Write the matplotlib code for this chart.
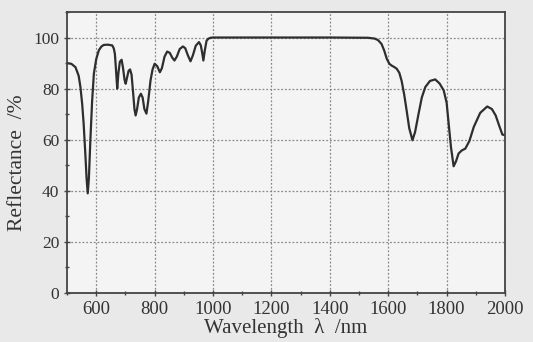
import matplotlib
matplotlib.use("Agg")
import matplotlib.pyplot as plt
from matplotlib.ticker import MultipleLocator

# values
wavelength = [500, 515, 529, 540, 546, 552, 557, 563, 567, 571, 575, 580, 586, 592,
              600, 609, 618, 626, 640, 655, 660, 664, 668, 672, 676, 681, 687,
              692, 697, 701, 706, 711, 716, 721, 726, 731, 735, 740, 746, 753,
              759, 765, 772, 778, 786, 793, 800, 809, 818, 825, 834, 843, 852,
              860, 868, 876, 886, 897, 905, 914, 923, 931, 941, 952, 958, 963,
              967, 972, 978, 985, 992, 1000, 1200, 1400, 1530, 1553, 1565,
              1577, 1586, 1595, 1604, 1612, 1620, 1629, 1638, 1646, 1655, 1663,
              1672, 1683, 1692, 1704, 1715, 1727, 1743, 1761, 1776, 1790, 1800,
              1807, 1815, 1824, 1832, 1841, 1852, 1864, 1878, 1893, 1915, 1939,
              1955, 1968, 1980, 1991, 2000]
reflectance = [90, 89.7, 88.4, 85, 80.6, 74, 66.3, 54, 45, 39, 45, 59.8, 75, 85.8,
               91.5, 95, 96.5, 97.1, 97.2, 96.9, 95.8, 93.6, 87, 80, 86, 90.5, 91.3,
               88, 83.5, 81.9, 84.5, 87, 87.5, 85.5, 79, 72, 69.5, 72, 76.5, 78,
               76.5, 72, 70.2, 75, 83.2, 87.5, 89.7, 88.8, 86.4, 88, 92.5, 94.5,
               94, 92.2, 91, 92.5, 95.5, 96.5, 95.8, 93, 90.7, 93, 96.8, 98.2,
               97, 94, 91, 95, 98.8, 99.6, 99.9, 100, 100, 100, 99.9, 99.6, 99,
               97.5, 95, 91.7, 89.7, 89, 88.5, 87.8, 86.2, 83, 77.5, 71.5,
               64.5, 59.8, 63, 70.2, 76.5, 80.6, 83, 83.6, 82, 79.3, 74.5,
               66.3, 57, 49.6, 51.5, 54.6, 55.8, 56.5, 59.5, 65, 70.5, 73,
               72, 69.5, 65.5, 62, 61.8]

x_ticks = [600, 800, 1000, 1200, 1400, 1600, 1800, 2000]
y_ticks = [0, 20, 40, 60, 80, 100]

plt.rcParams['font.family'] = ['Liberation Serif', 'DejaVu Serif']

fig = plt.figure(figsize=(5.33, 3.42), dpi=100, facecolor='#e9e9e9')
ax = fig.add_axes([0.1257, 0.1433, 0.8218, 0.8217], facecolor='#f4f4f4')

ax.plot(wavelength, reflectance, color='#2e2e2e', linewidth=1.6)

ax.set_xlim(500, 2000)
ax.set_ylim(0, 110)
ax.set_xticks(x_ticks)
ax.set_yticks(y_ticks)
ax.xaxis.set_minor_locator(MultipleLocator(100))
ax.yaxis.set_minor_locator(MultipleLocator(10))
ax.tick_params(which='both', direction='inout', colors='#444444',
               labelcolor='#333333', width=1.0)
ax.tick_params(which='major', length=5)
ax.tick_params(which='minor', length=3)
ax.tick_params(axis='x', labelsize=13.5, pad=3)
ax.tick_params(axis='y', labelsize=12.5, pad=3)

ax.grid(True, which='major', color='#8a8a8a', linestyle=(0, (1.5, 1.5)),
        linewidth=0.9)
for s in ax.spines.values():
    s.set_color('#444444')
    s.set_linewidth(1.3)

ax.set_xlabel('Wavelength  λ  /nm', fontsize=15, color='#333333', labelpad=0)
ax.set_ylabel('Reflectance  /%', fontsize=15.5, color='#333333')
ax.yaxis.set_label_coords(-0.092, 0.465)

fig.savefig('out.png', dpi=100, facecolor=fig.get_facecolor())
